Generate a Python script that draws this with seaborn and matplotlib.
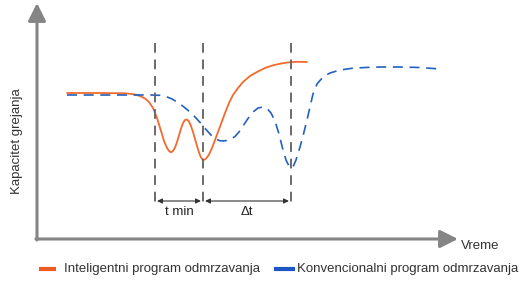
import numpy as np
import pandas as pd
import matplotlib
matplotlib.use("Agg")
import matplotlib.pyplot as plt
import seaborn as sns

# ==========================================================
# DATA (pixel-like units, y grows down)
# ==========================================================

smart_x = [67, 100, 125, 132, 137, 141, 145, 149, 153, 157, 161, 164, 167,
           169, 171, 173, 175, 177, 179, 181, 183, 185, 187, 189, 191, 193,
           195, 197, 199, 201, 203, 205, 207, 209, 212, 215, 218, 221, 225,
           229, 233, 238, 243, 250, 257, 265, 273, 281, 290, 298, 307]
smart_y = [93, 93, 93.3, 94, 95, 96.5, 98.5, 102, 108, 118, 131, 141, 148,
           151, 152.3, 151, 147.5, 142, 135.5, 128.5, 123, 120, 119.5, 121.5, 126, 132,
           139, 146, 152.5, 157.5, 160, 159.5, 157.5, 154.5, 148, 140, 132, 124, 113,
           103, 95, 88, 82, 76, 72, 68, 65.3, 63.5, 62.2, 61.8, 62]

conv_x = [67, 110, 150, 160, 166, 172, 178, 184, 190, 196, 201, 206, 211,
          215, 219, 223, 227, 231, 235, 239, 243, 248, 253, 258, 263, 267,
          271, 275, 279, 283, 286, 289, 291, 293, 296, 300, 304, 307, 310,
          313, 317, 323, 330, 340, 352, 365, 380, 400, 420, 440]
conv_y = [95, 95, 95, 95.3, 96.5, 99, 102.5, 107, 112, 118, 123.5, 129.5, 135,
          138.5, 140.5, 141, 140.5, 139, 136.5, 132, 126, 118.5, 112, 108, 107, 108.5,
          113, 121, 134, 150, 160, 166, 168, 167, 160, 147, 132, 120, 107,
          94, 84, 77, 73, 70, 68.3, 67.5, 67, 67, 67.5, 69]

marker_x = [155, 203, 291]
span_labels = ["t min", "Δt"]

series_names = ["Inteligentni program odmrzavanja", "Konvencionalni program odmrzavanja"]
axis_labels = ["Kapacitet grejanja", "Vreme"]

ORANGE = "#f26a2e"
BLUE = "#2460c0"
GRAY = "#858585"
TEXT = "#333333"

df = pd.concat([
    pd.DataFrame({"x": smart_x, "y": smart_y, "program": series_names[0]}),
    pd.DataFrame({"x": conv_x, "y": conv_y, "program": series_names[1]}),
])

sns.set_theme(style="white")
plt.rcParams["font.family"] = ["Liberation Sans", "DejaVu Sans"]

fig = plt.figure(figsize=(5.21, 2.81), dpi=100)
ax = fig.add_axes([0, 0, 1, 1])

sns.lineplot(data=df[df.program == series_names[0]], x="x", y="y",
             color=ORANGE, linewidth=1.3, ax=ax, sort=False, legend=False)
sns.lineplot(data=df[df.program == series_names[1]], x="x", y="y",
             color=BLUE, linewidth=1.2, ax=ax, sort=False, legend=False)
ax.lines[0].set_solid_joinstyle("round")
ax.lines[-1].set_dashes([6, 4])

# vertical markers
for mx in marker_x:
    ax.plot([mx, mx], [43, 204], color="#6a6a6a", linewidth=1.4,
            dashes=[5, 3.5])

# span arrows
spans = [(marker_x[0], marker_x[1]), (marker_x[1], marker_x[2])]
for (a, b), lab in zip(spans, span_labels):
    ax.annotate("", xy=(b - 2, 201), xytext=(a + 2, 201),
                arrowprops=dict(arrowstyle="<|-|>,head_length=0.25,head_width=0.12",
                                color="#333333", lw=0.8, shrinkA=0, shrinkB=0))
    ax.text((a + b) / 2, 212, lab, ha="center", va="center",
            fontsize=9.5, color="#222222")

# axes arrows
ax.annotate("", xy=(37, 3), xytext=(37, 240),
            arrowprops=dict(arrowstyle="-|>,head_length=0.9,head_width=0.45",
                            color=GRAY, lw=2.2, shrinkA=0, shrinkB=0))
ax.annotate("", xy=(458, 239), xytext=(35.9, 239),
            arrowprops=dict(arrowstyle="-|>,head_length=0.9,head_width=0.45",
                            color=GRAY, lw=2.2, shrinkA=0, shrinkB=0))

ax.text(17, 141, axis_labels[0], rotation=90, ha="center", va="center",
        fontsize=9.5, color=TEXT)
ax.text(461, 246, axis_labels[1], ha="left", va="center",
        fontsize=9.5, color=TEXT)

# legend
ax.plot([39, 56], [269, 269], color="#f05a1e", linewidth=3, solid_capstyle="butt")
ax.text(64, 269, series_names[0], ha="left", va="center", fontsize=9.5, color=TEXT)
ax.plot([274, 295], [269, 269], color="#1d56c4", linewidth=3, solid_capstyle="butt")
ax.text(297, 269, series_names[1], ha="left", va="center", fontsize=9.5, color=TEXT)

ax.set_xlim(0, 521)
ax.set_ylim(281, 0)
ax.axis("off")

fig.savefig("out.png", dpi=100)
